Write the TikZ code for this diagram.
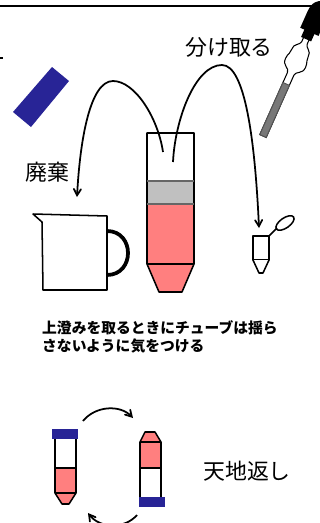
\documentclass[tikz,border=0pt]{standalone}
\usepackage{fontspec}
\newfontfamily\jp{Noto Sans CJK JP}
\usetikzlibrary{arrows}
\usetikzlibrary{calc}
\usetikzlibrary{positioning}

\definecolor{fluid}{RGB}{255,127,127}
\definecolor{pellet}{RGB}{192,192,192}
\definecolor{capblue}{RGB}{40,36,150}
\definecolor{glass}{RGB}{120,120,120}

\tikzset{
  outline/.style={draw=black,line width=1.3pt,line join=round},
  flow/.style={->,line width=1.5pt},
  label/.style={font=\jp\fontsize{18.7}{22}\selectfont,inner sep=0pt}
}

\begin{document}
\begin{tikzpicture}[x=0.03cm,y=-0.03cm,>=angle 60]
  \useasboundingbox (0,0) rectangle (320,523);

  % Rand oben
  \draw[line width=1.8pt] (0,6) -- (312,6);
  \draw[line width=1.8pt] (0,58) -- (3,58);

  % Deckel (gedreht)
  \fill[capblue] (52,67) -- (69,81) -- (31,127) -- (13,112) -- cycle;

  % Pipette
  \begin{scope}[shift={(263,136)},rotate=-24]
    \draw[black,line width=0.9pt,fill=white]
      (-3.5,0) -- (-3.5,-68) .. controls (-3.5,-73) and (-11,-72) .. (-11,-80)
      .. controls (-11,-86) and (-8,-87) .. (-9,-91)
      .. controls (-10,-97) and (-3,-98) .. (-3,-102) -- (-3,-110)
      -- (3,-110) -- (3,-102) .. controls (3,-98) and (10,-97) .. (9,-91)
      .. controls (8,-87) and (11,-86) .. (11,-80)
      .. controls (11,-72) and (3.5,-73) .. (3.5,-68) -- (3.5,0) -- cycle;
    \fill[glass] (-3.5,0) rectangle (3.5,-57);
    \draw[glass!70!black,line width=0.8pt] (-3.5,0) rectangle (3.5,-57);
    \fill[black] (-5.5,-106) rectangle (5.5,-116);
    \fill[black] (-10,-114) -- (-10,-132) .. controls (-10,-152) and (10,-152) .. (10,-132)
      -- (10,-114) -- cycle;
  \end{scope}

  % Zentrifugenroehrchen
  \coordinate (left in) at (163,152);
  \coordinate (right in) at (173,162);
  \fill[white] (147,133) rectangle (194,181);
  \fill[pellet] (147,181) rectangle (194,204);
  \fill[fluid] (147,204) rectangle (194,264);
  \fill[fluid] (147,264) -- (159,292) -- (182,292) -- (194,264) -- cycle;
  \draw[outline] (147,133) -- (147,264) -- (159,292) -- (182,292) -- (194,264) -- (194,133) -- cycle;
  \draw[line width=0.9pt,black!60] (147,181) -- (194,181);
  \draw[line width=0.9pt,black!60] (147,204) -- (194,204);
  \draw[outline] (147,264) -- (194,264);

  % Becher
  \draw[outline,fill=white] (33,214) -- (107,216) -- (107,290) -- (43,290) -- (42,222) -- cycle;
  \draw[line width=3.2pt] (107,231) .. controls (135,231) and (135,275) .. (107,275);
  \coordinate (waste) at (77,197);

  % kleines Roehrchen
  \draw[outline,fill=white] (253,236) rectangle (269,260);
  \draw[outline,fill=white] (253,260) -- (259,273) -- (263,273) -- (269,260);
  \draw[outline] (269,236) -- (277,228);
  \draw[outline,rotate around={35:(285,223)}] (285,223) ellipse (10.5 and 5);
  \coordinate (keep) at (259,228);

  % Pfeile
  \draw[flow] (left in) .. controls (158,118) and (135,81) .. (113,81)
    .. controls (90,81) and (80,140) .. (waste);
  \draw[flow] (right in) .. controls (175,120) and (195,65) .. (222,65)
    .. controls (245,65) and (255,140) .. (keep);

  \node[label] (take) at (229,47) {分け取る};
  \node[label] (discard) at (47,172) {廃棄};

  \node[anchor=west,align=left,inner sep=0pt,font=\jp\bfseries\fontsize{12.6}{15.3}\selectfont]
    (note) at (42,337) {上澄みを取るときにチューブは揺ら\\さないように気をつける};

  % unten: Roehrchen vorher / nachher
  \fill[capblue] (52,429) rectangle (78,439);
  \fill[white] (55,439) rectangle (76,468);
  \fill[fluid] (55,468) rectangle (76,493);
  \fill[fluid] (55,493) -- (62,504) -- (69,504) -- (76,493) -- cycle;
  \draw[outline] (55,439) -- (55,493) -- (62,504) -- (69,504) -- (76,493) -- (76,439);
  \draw[outline] (55,468) -- (76,468);
  \draw[outline] (55,493) -- (76,493);

  \fill[fluid] (145,432) -- (155,432) -- (161,442) -- (140,442) -- cycle;
  \fill[fluid] (140,442) rectangle (161,468);
  \fill[white] (140,468) rectangle (161,497);
  \draw[outline] (140,497) -- (140,442) -- (145,432) -- (155,432) -- (161,442) -- (161,497);
  \draw[outline] (140,442) -- (161,442);
  \draw[outline] (140,468) -- (161,468);
  \fill[capblue] (139,497) rectangle (165,507);

  \coordinate (turn a) at (83,421);
  \coordinate (turn b) at (133,418);
  \coordinate (turn c) at (137,515);
  \coordinate (turn d) at (88,513);
  \draw[flow] (turn a) .. controls (95,406) and (120,404) .. (turn b);
  \draw[flow] (turn c) .. controls (125,529) and (100,529) .. (turn d);

  \node[label] (flip) at (247,471) {天地返し};
\end{tikzpicture}
\end{document}
